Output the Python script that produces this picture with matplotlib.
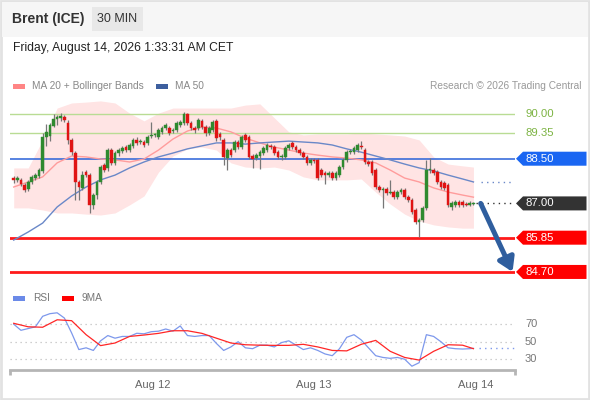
import matplotlib
matplotlib.use("Agg")
import matplotlib.pyplot as plt
from matplotlib.patches import Polygon, Rectangle

plt.rcParams['font.family'] = ['Liberation Sans', 'DejaVu Sans']

# ---------------- data ----------------
opens = [87.85, 87.79, 87.79, 87.62, 87.48, 87.72, 87.85, 87.92, 88.09, 89.23,
         89.26, 89.60, 89.83, 89.87, 89.90, 89.70, 89.13, 88.69, 87.72, 87.52,
         88.05, 87.95, 86.95, 87.28, 87.72, 88.29, 88.19, 88.79, 88.36, 88.69,
         88.76, 88.89, 88.79, 88.93, 89.13, 89.06, 89.06, 89.03, 89.26, 89.30,
         89.23, 89.40, 89.53, 89.53, 89.43, 89.46, 89.63, 89.70, 90.00, 89.70,
         89.53, 89.53, 89.77, 89.56, 89.36, 89.46, 89.77, 89.33, 89.13, 88.52,
         88.79, 88.79, 89.06, 88.89, 89.30, 89.23, 88.59, 88.52, 88.59, 88.69,
         88.79, 88.93, 88.89, 88.72, 88.56, 88.56, 88.86, 89.03, 88.89, 88.79,
         88.69, 88.56, 88.36, 88.46, 88.46, 88.12, 88.02, 87.95, 88.02, 87.85,
         87.95, 88.22, 88.46, 88.72, 88.72, 88.79, 88.93, 88.79, 88.39, 88.39,
         88.12, 87.55, 87.45, 87.48, 87.35, 87.38, 87.21, 87.38, 87.45, 87.21,
         87.11, 86.78, 86.38, 86.44, 86.85, 88.12, 88.12, 88.05, 87.72, 87.68,
         87.62, 86.88, 86.95, 87.05, 87.05, 86.98, 86.95, 86.98]
closes = [87.79, 87.85, 87.65, 87.45, 87.72, 87.89, 87.95, 88.12, 89.23, 89.40,
          89.63, 89.83, 89.90, 89.93, 89.80, 89.13, 88.72, 87.72, 87.55, 87.95,
          87.95, 86.95, 87.28, 87.72, 88.22, 88.12, 88.79, 88.36, 88.69, 88.79,
          88.86, 88.79, 88.96, 89.13, 89.03, 89.09, 88.96, 89.23, 89.30, 89.30,
          89.46, 89.53, 89.63, 89.36, 89.46, 89.70, 89.73, 90.00, 89.70, 89.53,
          89.46, 89.80, 89.56, 89.36, 89.53, 89.73, 89.19, 89.23, 88.56, 88.79,
          88.62, 89.06, 88.89, 89.23, 89.13, 88.56, 88.49, 88.62, 88.72, 88.86,
          88.96, 88.89, 88.69, 88.56, 88.59, 88.86, 88.96, 88.89, 88.79, 88.69,
          88.56, 88.36, 88.46, 88.42, 87.85, 87.95, 87.95, 88.02, 87.85, 88.02,
          88.22, 88.46, 88.72, 88.76, 88.86, 88.96, 88.89, 88.39, 88.32, 88.02,
          87.55, 87.45, 87.48, 87.35, 87.38, 87.21, 87.38, 87.45, 87.21, 87.11,
          86.71, 86.38, 86.44, 86.85, 88.12, 88.12, 88.02, 87.72, 87.55, 87.52,
          86.95, 87.01, 87.05, 86.95, 86.95, 86.95, 87.01, 87.00]
highs = [87.92, 87.92, 87.85, 87.68, 87.80, 87.95, 88.02, 88.20, 89.36, 89.66,
         89.70, 90.00, 89.97, 90.03, 89.97, 89.80, 89.20, 88.75, 87.80, 88.09,
         88.12, 88.02, 87.35, 87.80, 88.30, 88.36, 88.86, 88.86, 88.76, 88.86,
         88.93, 88.96, 89.03, 89.20, 89.23, 89.16, 89.13, 89.30, 89.73, 89.36,
         89.53, 89.60, 89.70, 89.60, 89.53, 89.77, 89.80, 90.07, 90.05, 89.77,
         89.60, 89.87, 89.83, 89.63, 89.60, 89.80, 89.83, 89.40, 89.20, 88.86,
         88.86, 89.13, 89.13, 89.30, 89.36, 89.30, 88.66, 88.69, 88.79, 88.93,
         89.03, 89.00, 88.96, 88.79, 88.66, 88.93, 89.03, 89.09, 88.96, 88.86,
         88.76, 88.62, 88.52, 88.52, 88.52, 88.19, 88.09, 88.09, 88.09, 88.09,
         88.29, 88.52, 88.79, 88.83, 88.93, 89.03, 89.09, 88.86, 88.46, 88.46,
         88.19, 87.62, 87.55, 87.55, 87.79, 87.45, 87.45, 87.52, 87.52, 87.28,
         87.18, 86.85, 86.51, 86.91, 88.46, 88.52, 88.19, 88.12, 87.79, 87.75,
         87.68, 87.08, 87.11, 87.11, 87.11, 87.05, 87.08, 87.05]
lows = [87.68, 87.72, 87.60, 87.38, 87.42, 87.65, 87.80, 87.85, 88.02, 88.93,
        89.10, 89.55, 89.63, 89.78, 89.72, 89.00, 88.62, 87.11, 87.11, 87.45,
        87.88, 86.68, 86.80, 87.15, 87.65, 88.05, 88.10, 88.28, 88.29, 88.60,
        88.70, 88.72, 88.72, 88.86, 88.96, 89.00, 88.89, 88.96, 89.20, 89.23,
        89.16, 89.33, 89.46, 89.30, 89.36, 89.40, 89.56, 89.63, 89.63, 89.46,
        89.36, 89.46, 89.50, 89.26, 89.30, 89.40, 89.10, 89.13, 88.29, 88.12,
        88.56, 88.72, 88.83, 88.83, 89.06, 88.49, 88.19, 88.45, 88.15, 88.62,
        88.72, 88.83, 88.62, 88.49, 88.45, 88.49, 88.79, 88.83, 88.72, 88.62,
        88.49, 88.29, 88.29, 88.36, 87.79, 87.88, 87.65, 87.88, 87.79, 87.79,
        87.88, 88.15, 88.39, 88.66, 88.66, 88.72, 88.83, 88.32, 88.26, 87.95,
        87.48, 87.38, 86.85, 87.28, 87.30, 87.15, 87.15, 87.32, 87.15, 87.05,
        86.64, 86.31, 85.87, 86.38, 86.78, 88.02, 87.95, 87.65, 87.48, 87.45,
        86.88, 86.78, 86.88, 86.88, 86.88, 86.91, 86.91, 86.94]

# indicator samples (candle index -> value)
ind_idx = [0, 4, 8, 12, 16, 20, 24, 28, 32, 36, 40, 44, 48, 52, 56, 60, 64,
           68, 72, 76, 80, 84, 88, 92, 96, 100, 104, 108, 112, 116, 120, 124, 127]
bb_upper = [88.19, 88.19, 89.13, 90.20, 90.37, 90.40, 90.44, 90.37, 90.03, 89.77,
            90.03, 90.20, 90.20, 90.20, 90.20, 90.20, 90.30, 90.34, 89.87, 89.40,
            89.30, 89.33, 89.33, 89.33, 89.36, 89.33, 89.30, 89.26, 89.13, 88.56,
            88.32, 88.26, 88.22]
bb_lower = [86.85, 86.85, 86.78, 86.68, 86.68, 86.64, 86.61, 86.68, 86.95, 87.25,
            88.05, 88.59, 88.83, 88.89, 88.79, 88.36, 88.22, 88.19, 88.22, 88.12,
            87.89, 87.79, 87.79, 87.79, 87.82, 87.38, 86.98, 86.64, 86.41, 86.28,
            86.21, 86.17, 86.17]
ma20 = [87.55, 87.72, 87.89, 88.36, 88.59, 88.56, 88.49, 88.46, 88.39, 88.49,
        88.79, 89.16, 89.43, 89.56, 89.53, 89.40, 89.19, 89.03, 88.89, 88.79,
        88.69, 88.62, 88.56, 88.52, 88.46, 88.36, 88.12, 87.85, 87.72, 87.52,
        87.38, 87.28, 87.21]
ma50 = [85.77, 86.04, 86.34, 86.88, 87.25, 87.55, 87.79, 87.95, 88.19, 88.39,
        88.56, 88.69, 88.83, 88.93, 89.03, 89.03, 88.99, 89.03, 89.06, 89.09,
        89.06, 89.03, 88.96, 88.83, 88.72, 88.59, 88.46, 88.32, 88.19, 88.09,
        87.95, 87.82, 87.72]

rsi_idx = list(range(0, 128, 2)) + [127]
rsi = [70, 63, 65, 67, 79, 82, 83, 77, 60, 41,
       43, 40, 51, 57, 54, 56, 56, 59.6, 59, 61.4,
       62, 64.5, 62, 68, 57, 56, 57, 57, 48, 40,
       44, 50, 43, 42, 46, 46, 44, 49, 51, 46,
       41, 43, 40, 36, 34, 42, 55, 58, 52, 43,
       34, 32, 31, 32, 30, 22, 26, 58, 56, 50,
       43, 42, 41.6, 42, 42.4]
rsi_ma = [71, 67, 66.5, 75, 74, 58, 45.5, 48.5, 56, 57.6,
          59.5, 62.5, 62.5, 59.5, 54, 48.5, 46.5, 46, 45.8, 45.8,
          47, 44, 40, 39.5, 47, 51.5, 39, 32, 29, 39,
          46.5, 46, 42]

levels = [90.00, 89.35, 88.50, 87.00, 85.85, 84.70]
level_labels = ["90.00", "89.35", "88.50", "87.00", "85.85", "84.70"]
rsi_levels = [70, 50, 30]
day_ticks = [38.5, 83.0, 127.5]
day_labels = ["Aug 12", "Aug 13", "Aug 14"]

# ---------------- figure ----------------
W, H = 590, 400
fig = plt.figure(figsize=(W / 100, H / 100), dpi=100)
fig.patch.set_facecolor('white')


def fx(px):
    return px / W


def fy(py):
    return 1 - py / H


# card / header
fig.patches.append(Rectangle((0.001, 0.002), 0.997, 0.996, transform=fig.transFigure,
                             facecolor='white', edgecolor='#e2e2e2', lw=2, zorder=-10))
fig.patches.append(Rectangle((fx(1.5), fy(37)), fx(587.5) - fx(1.5), 35.5 / H,
                             transform=fig.transFigure, facecolor='#f6f6f6',
                             edgecolor='none', zorder=-9))
fig.patches.append(Rectangle((fx(92), fy(31)), 51 / W, 24 / H, transform=fig.transFigure,
                             facecolor='#e8e8e8', edgecolor='none', zorder=-8))
fig.text(fx(12), fy(19), "Brent (ICE)", fontsize=10, fontweight='bold',
         color='#333333', va='center', ha='left')
fig.text(fx(117.5), fy(19), "30 MIN", fontsize=9, color='#333333', va='center', ha='center')
fig.text(fx(13), fy(48), "Friday, August 14, 2026 1:33:31 AM CET", fontsize=8.7,
         color='#222222', va='center', ha='left')

# legend row
fig.patches.append(Rectangle((fx(13), fy(89)), 12 / W, 5 / H, transform=fig.transFigure,
                             facecolor='#ff8585', edgecolor='none'))
fig.text(fx(32), fy(86), "MA 20 + Bollinger Bands", fontsize=7.3, color='#888888',
         va='center', ha='left')
fig.patches.append(Rectangle((fx(156), fy(89)), 12 / W, 5 / H, transform=fig.transFigure,
                             facecolor='#3d5f9e', edgecolor='none'))
fig.text(fx(175), fy(86), "MA 50", fontsize=7.3, color='#888888', va='center', ha='left')
fig.text(fx(581), fy(86), "Research \u00a9 2026 Trading Central", fontsize=7.3,
         color='#999999', va='center', ha='right')

# ---------------- price panel ----------------
sp = 3.62
x0 = 13.7
xlim = ((10 - x0) / sp, (515 - x0) / sp)
ax = fig.add_axes([fx(10), fy(280), 505 / W, 180 / H])
ax.set_zorder(2)
ax.patch.set_alpha(0)
ax.set_xlim(*xlim)
ax.set_ylim(84.43, 90.47)
ax.axis('off')

n = len(closes)
xs = list(range(n))

ax.fill_between(ind_idx, bb_lower, bb_upper, color='#ffe4e4', lw=0, zorder=1)

for lv in (90.00, 89.35):
    ax.axhline(lv, color='#b9dc94', lw=1.0, zorder=2)
ax.axhline(88.50, color='#2a62d8', lw=1.1, zorder=2)
ax.axhline(85.85, color='#ff1a1a', lw=2.0, zorder=2)
ax.axhline(84.70, color='#ff1a1a', lw=2.0, zorder=2)

ax.plot(ind_idx, ma20, color='#ff9c9c', lw=1.0, zorder=3)
ax.plot(ind_idx, ma50, color='#6a88c8', lw=1.0, zorder=3)

# candles
ax.vlines(xs, lows, highs, color='#777777', lw=0.9, zorder=4)
bw = 0.74
for i in range(n):
    o, c = opens[i], closes[i]
    col = '#2f8a2f' if c >= o else '#e01414'
    bot = min(o, c)
    h = max(abs(c - o), 0.025)
    ax.bar(i, h, bottom=bot, width=bw, color=col, edgecolor=col, lw=0.3, zorder=5)

# dotted extensions
ax.plot([ind_idx[-1] + 2, xlim[1] - 0.5], [ma50[-1], ma50[-1]], color='#6a88c8',
        lw=1.0, ls=(0, (1, 3)), zorder=3)
ax.plot([n - 1 + 0.6, xlim[1] - 0.5], [closes[-1], closes[-1]], color='#333333',
        lw=1.0, ls=(0, (1, 3)), zorder=3)

# forecast arrow
ax.annotate('', xy=(n - 1 + 10.8, levels[-1]), xytext=(n - 1 + 2.0, closes[-1]),
            arrowprops=dict(arrowstyle='-|>,head_length=0.8,head_width=0.5',
                            lw=3.6, color='#2f5e9e', shrinkA=0, shrinkB=0),
            annotation_clip=False, zorder=6)

# level labels
ytr = ax.get_yaxis_transform()


def xa(px):
    return (px - 10) / 505


box_cols = {88.50: '#1a66f2', 87.00: '#333333', 85.85: '#ff0000', 84.70: '#ff0000'}
hh = 0.235
for lv, lab in zip(levels, level_labels):
    if lv in box_cols:
        poly = Polygon([(xa(516), lv), (xa(523), lv + hh), (xa(586.5), lv + hh),
                        (xa(586.5), lv - hh), (xa(523), lv - hh)], closed=True,
                       transform=ytr, facecolor=box_cols[lv], edgecolor='none',
                       clip_on=False, zorder=7)
        ax.add_patch(poly)
        ax.text(xa(525), lv, lab, transform=ytr, color='white', fontsize=8.2,
                va='center', ha='left', clip_on=False, zorder=8)
    else:
        ax.text(xa(525), lv, lab, transform=ytr, color='#7cb342', fontsize=8.2,
                va='center', ha='left', clip_on=False, zorder=8)

# ---------------- RSI panel ----------------
rax = fig.add_axes([fx(10), fy(370), 505 / W, 65 / H])
rax.set_zorder(2)
rax.patch.set_alpha(0)
rax.set_xlim(*xlim)
rax.set_ylim(17.66, 91.9)
for s in ['top', 'left', 'right']:
    rax.spines[s].set_visible(False)
rax.spines['bottom'].set_color('#b5b5b5')
rax.spines['bottom'].set_linewidth(2)
rax.set_yticks([])
rax.set_xticks(day_ticks)
rax.set_xticklabels(day_labels)
rax.tick_params(axis='x', length=0, pad=7, labelsize=8, labelcolor='#666666')
for xe in (0, 1):
    rax.plot([xe, xe], [0, -5 / 65], transform=rax.transAxes, color='#b5b5b5',
             lw=2, clip_on=False, solid_capstyle='butt')

for lv in rsi_levels:
    rax.axhline(lv, color='#c0c0c0', lw=0.9, ls=(0, (1, 3)), zorder=1)
    rax.text(xa(525), lv, str(lv), transform=rax.get_yaxis_transform(), color='#777777',
             fontsize=8, va='center', ha='left', clip_on=False)

rax.plot(rsi_idx, rsi, color='#7d98ec', lw=0.9, zorder=3)
rax.plot(ind_idx, rsi_ma, color='#ff2626', lw=0.9, zorder=4)
rax.plot([rsi_idx[-1] + 1.5, xlim[1] - 0.3], [rsi[-1], rsi[-1]], color='#7d98ec',
         lw=1.0, ls=(0, (1, 3)), zorder=3)

# RSI legend
fig.patches.append(Rectangle((fx(13), fy(300.5)), 12 / W, 5 / H, transform=fig.transFigure,
                             facecolor='#6b8ae8', edgecolor='none'))
fig.text(fx(33), fy(298), "RSI", fontsize=7.3, color='#777777', va='center', ha='left')
fig.patches.append(Rectangle((fx(62), fy(300.5)), 12 / W, 5 / H, transform=fig.transFigure,
                             facecolor='#ff0000', edgecolor='none'))
fig.text(fx(81), fy(298), "9MA", fontsize=7.3, color='#777777', va='center', ha='left')

fig.savefig('out.png', dpi=100, facecolor='white')
